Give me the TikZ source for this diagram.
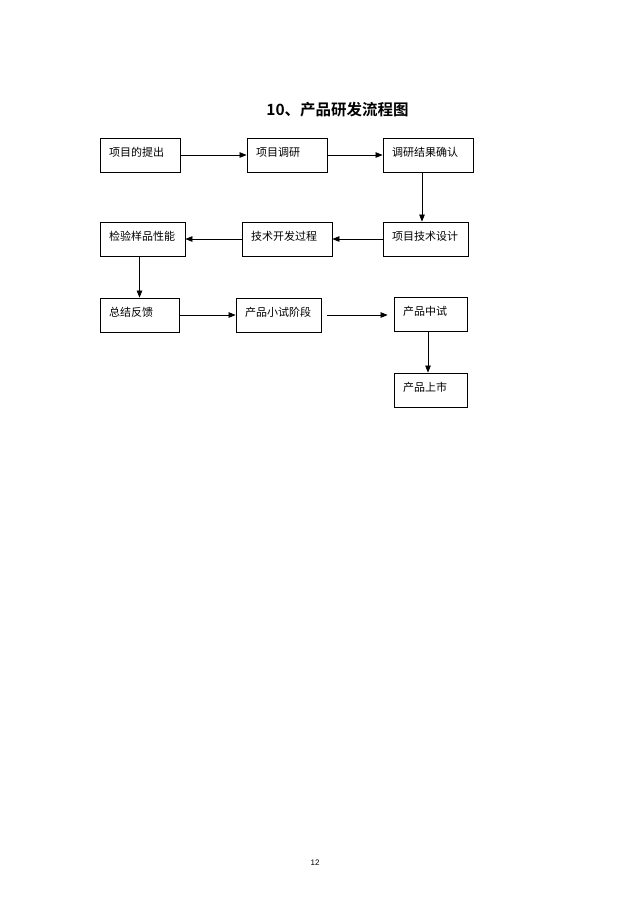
\documentclass[tikz,border=0pt]{standalone}
\usepackage{fontspec}
\newfontfamily\cjk{Noto Sans CJK SC}
\newfontfamily\cjkbold{Noto Sans CJK SC Bold}
\usetikzlibrary{arrows.meta}
\begin{document}
\begin{tikzpicture}[x=1pt,y=-1pt,
  boxnode/.style={draw=black,line width=0.8pt,minimum height=34pt,inner xsep=9pt,
    align=left,text height=9.7pt,text depth=7.3pt,font=\cjk\fontsize{11}{13}\selectfont},
  conn/.style={line width=0.7pt,-{Triangle[length=7pt,width=5.5pt]}}]
\useasboundingbox[fill=white] (0,0) rectangle (640,906);
\node[font=\cjkbold\fontsize{15.5}{18}\selectfont] (title) at (337.5,110) {10、产品研发流程图};
\node[boxnode,minimum width=80pt,text width=62pt] (b1) at (140,155) {项目的提出};
\node[boxnode,minimum width=80pt,text width=62pt] (b2) at (287,155) {项目调研};
\node[boxnode,minimum width=90pt,text width=72pt] (b3) at (428,155) {调研结果确认};
\node[boxnode,minimum width=85pt,text width=67pt] (b4) at (425.5,239) {项目技术设计};
\node[boxnode,minimum width=90pt,text width=72pt] (b5) at (287,239) {技术开发过程};
\node[boxnode,minimum width=85pt,text width=67pt] (b6) at (142.5,239) {检验样品性能};
\node[boxnode,minimum width=79pt,text width=61pt] (b7) at (139.5,315) {总结反馈};
\node[boxnode,minimum width=85pt,text width=67pt] (b8) at (278.5,315) {产品小试阶段};
\node[boxnode,minimum width=73pt,text width=55pt] (b9) at (430.5,314.5) {产品中试};
\node[boxnode,minimum width=73pt,text width=55pt] (b10) at (430.5,390) {产品上市};
\node[font=\fontspec{Liberation Sans}\fontsize{8}{10}\selectfont] (pg) at (315,863) {12};
\draw[conn] (b1) -- (b2);
\draw[conn] (b2) -- (b3);
\draw[conn] ([xshift=-3.5pt]b4.north |- b3.south) -- ([xshift=-3.5pt]b4.north);
\draw[conn] (b4) -- (b5);
\draw[conn] (b5) -- (b6);
\draw[conn] (b6.south -| b7.north) -- (b7.north);
\draw[conn] (b7) -- (b8);
\draw[conn,shorten <=6pt,shorten >=6pt] (b8.east) -- (b8.east -| b9.west);
\draw[conn] ([xshift=-2.5pt]b9.south) -- ([xshift=-2.5pt]b10.north);
\end{tikzpicture}
\end{document}
